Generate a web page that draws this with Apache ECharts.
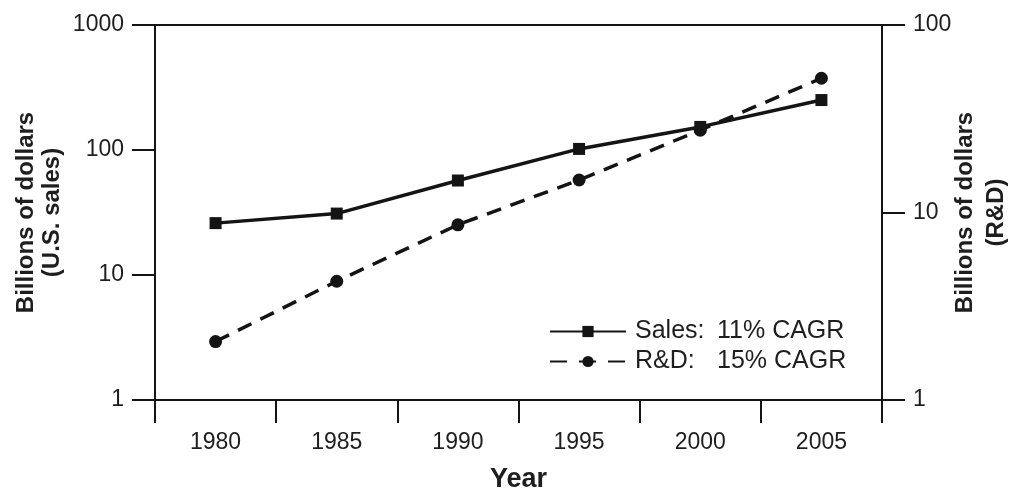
<!DOCTYPE html>
<html>
<head>
<meta charset="utf-8">
<script src="https://cdn.jsdelivr.net/npm/echarts@6/dist/echarts.min.js"></script>
<style>
  html, body { margin: 0; padding: 0; background: #fff; }
  #chart { width: 1013px; height: 493px; }
</style>
</head>
<body>
<div id="chart"></div>
<script>
// Years on the category axis
const years = ['1980', '1985', '1990', '1995', '2000', '2005'];
// U.S. sales, billions of dollars (left log axis)
const salesValues = [26, 31, 57, 102, 153, 251];
// R&D spending, billions of dollars (right log axis)
const rdValues = [2.05, 4.3, 8.6, 14.9, 27.5, 52];
// Legend wording
const salesLabel = ['Sales:', '11% CAGR'];
const rdLabel = ['R&D:', '15% CAGR'];

const ink = '#141414';
const textInk = '#1e1e1e';
const font = '"Liberation Sans", Arial, Helvetica, sans-serif';

const chart = echarts.init(document.getElementById('chart'), null, { renderer: 'canvas' });

const yAxisCommon = {
  type: 'log',
  logBase: 10,
  splitLine: { show: false },
  axisLine: { show: true, lineStyle: { color: ink, width: 2 } },
  axisTick: { show: true, inside: false, length: 23, lineStyle: { color: ink, width: 2 } },
  axisLabel: {
    color: textInk, fontFamily: font, fontSize: 23, margin: 31,
    formatter: v => String(Math.round(v))
  },
  nameLocation: 'middle',
  nameRotate: 90,
  nameMoveOverlap: false
};

chart.setOption({
  animation: false,
  backgroundColor: '#fff',
  grid: {
    left: 155, right: 131, top: 25, bottom: 93,
    outerBoundsMode: 'none',
    containLabel: false,
    show: true, borderColor: ink, borderWidth: 2, backgroundColor: 'transparent'
  },
  legend: {
    orient: 'vertical',
    left: 544,
    top: 314,
    padding: 5,
    itemWidth: 76,
    itemHeight: 14,
    itemGap: 5,
    data: [
      { name: 'Sales' },
      { name: 'R&D', lineStyle: { type: [17, 12] } }
    ],
    formatter: name => name === 'Sales'
      ? '{s|}{a|' + salesLabel[0] + '}{b|' + salesLabel[1] + '}'
      : '{s|}{a|' + rdLabel[0] + '}{b|' + rdLabel[1] + '}',
    textStyle: {
      color: textInk, fontFamily: font, fontSize: 25,
      rich: {
        s: { width: 4 },
        a: { width: 82, color: textInk, fontFamily: font, fontSize: 25 },
        b: { color: textInk, fontFamily: font, fontSize: 25 }
      }
    }
  },
  xAxis: {
    type: 'category',
    data: years,
    boundaryGap: true,
    axisLine: { show: true, lineStyle: { color: ink, width: 2 } },
    axisTick: { show: true, length: 23, alignWithLabel: false, lineStyle: { color: ink, width: 2 } },
    axisLabel: { color: textInk, fontFamily: font, fontSize: 23, margin: 31 },
    name: 'Year',
    nameLocation: 'middle',
    nameGap: 66,
    nameMoveOverlap: false,
    nameTextStyle: { color: textInk, fontFamily: font, fontSize: 27, fontWeight: 'bold' }
  },
  yAxis: [
    Object.assign({}, yAxisCommon, {
      position: 'left',
      min: 1, max: 1000,
      name: 'Billions of dollars\n(U.S. sales)',
      nameGap: 90,
      nameTextStyle: { color: textInk, fontFamily: font, fontSize: 24, fontWeight: 'bold', lineHeight: 26 }
    }),
    Object.assign({}, yAxisCommon, {
      position: 'right',
      min: 1, max: 100,
      name: 'Billions of dollars\n(R&D)',
      nameGap: 68,
      nameTextStyle: { color: textInk, fontFamily: font, fontSize: 24, fontWeight: 'bold', lineHeight: 31 }
    })
  ],
  series: [
    {
      name: 'Sales',
      type: 'line',
      yAxisIndex: 0,
      data: salesValues,
      symbol: 'rect',
      symbolSize: 12,
      itemStyle: { color: ink },
      lineStyle: { color: ink, width: 3.5 }
    },
    {
      name: 'R&D',
      type: 'line',
      yAxisIndex: 1,
      data: rdValues,
      symbol: 'circle',
      symbolSize: 13,
      itemStyle: { color: ink },
      lineStyle: { color: ink, width: 3.5, type: [15, 10] }
    }
  ]
});
</script>
</body>
</html>
